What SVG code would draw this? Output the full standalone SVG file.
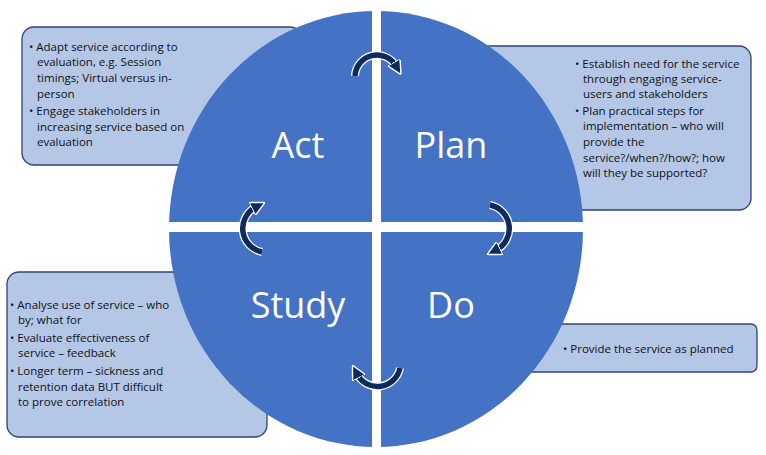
<svg xmlns="http://www.w3.org/2000/svg" width="766" height="455" viewBox="0 0 766 455">
<style>
.box{fill:#b4c7e7;stroke:#2f4470;stroke-width:1.3}
.t{font-family:"Open Sans","Liberation Sans",sans-serif;font-size:11.5px;fill:#111}
.lbl{font-family:"Open Sans","Liberation Sans",sans-serif;font-size:36px;fill:#fff;text-anchor:middle}
.ao{fill:none;stroke:#fff;stroke-width:8}
.a{fill:none;stroke:#0f2a5c;stroke-width:5.5;marker-end:url(#h)}
</style>
<defs>
<marker id="h" viewBox="0 0 10 10" refX="3" refY="5" markerWidth="2.6" markerHeight="2.6" orient="auto" markerUnits="strokeWidth">
<path d="M0,0 L10,5 L0,10 Z" fill="#0f2a5c" stroke="#fff" stroke-width="1"/>
</marker>
</defs>
<rect width="766" height="455" fill="#fff"/>
<g id="box-act"><rect class="box" x="22" y="27" width="280" height="138" rx="12"/>
<text class="t"><tspan x="29" y="51">• Adapt service according to</tspan><tspan x="37" y="66">evaluation, e.g. Session</tspan><tspan x="37" y="82">timings; Virtual versus in-</tspan><tspan x="37" y="98">person</tspan><tspan x="29" y="115">• Engage stakeholders in</tspan><tspan x="37" y="131">increasing service based on</tspan><tspan x="37" y="146">evaluation</tspan></text></g>
<g id="box-plan"><rect class="box" x="470" y="46" width="281" height="164" rx="12"/>
<text class="t"><tspan x="575" y="68">• Establish need for the service</tspan><tspan x="583" y="83">through engaging service-</tspan><tspan x="583" y="98">users and stakeholders</tspan><tspan x="575" y="115">• Plan practical steps for</tspan><tspan x="583" y="130">implementation – who will</tspan><tspan x="583" y="146">provide the</tspan><tspan x="583" y="162">service?/when?/how?; how</tspan><tspan x="583" y="177">will they be supported?</tspan></text></g>
<g id="box-study"><rect class="box" x="7" y="272" width="260" height="165" rx="12"/>
<text class="t"><tspan x="10" y="309">• Analyse use of service – who</tspan><tspan x="18" y="324">by; what for</tspan><tspan x="10" y="342">• Evaluate effectiveness of</tspan><tspan x="18" y="357">service – feedback</tspan><tspan x="10" y="375">• Longer term – sickness and</tspan><tspan x="18" y="391">retention data BUT difficult</tspan><tspan x="18" y="406">to prove correlation</tspan></text></g>
<g id="box-do"><rect class="box" x="500" y="324" width="257" height="48" rx="6"/>
<text class="t"><tspan x="563" y="353">• Provide the service as planned</tspan></text></g>
<g id="cycle">
<ellipse cx="376" cy="229" rx="207" ry="218" fill="#4472c4"/>
<rect x="372" y="8" width="9" height="445" fill="#fff"/>
<rect x="165" y="222" width="425" height="10" fill="#fff"/>
<text class="lbl" x="298" y="158">Act</text>
<text class="lbl" x="451" y="158">Plan</text>
<text class="lbl" x="298" y="318">Study</text>
<text class="lbl" x="451" y="318">Do</text>
</g>
<g id="connectors">
<path class="ao" d="M355,76 A22,22 0 0 1 396,66"/><path class="a" d="M355,76 A22,22 0 0 1 396,66"/>
<path class="ao" d="M490,205 A24,24 0 0 1 496,250"/><path class="a" d="M490,205 A24,24 0 0 1 496,250"/>
<path class="ao" d="M400,368 A23,23 0 0 1 357,374"/><path class="a" d="M400,368 A23,23 0 0 1 357,374"/>
<path class="ao" d="M262,252 A24,24 0 0 1 256,207"/><path class="a" d="M262,252 A24,24 0 0 1 256,207"/>
</g>
</svg>
